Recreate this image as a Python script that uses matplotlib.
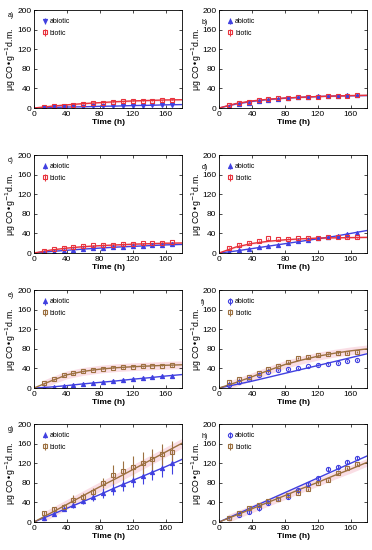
import matplotlib
matplotlib.use('Agg')
import matplotlib.pyplot as plt
import numpy as np

plt.rcParams['font.family'] = ['Liberation Sans', 'DejaVu Sans']

hours = [12, 24, 36, 48, 60, 72, 84, 96, 108, 120, 132, 144, 156, 168]
fit_x = [0, 20, 40, 60, 80, 100, 120, 140, 160, 180]

# a)
a_abiotic = [1, 2, 2, 3, 3, 4, 4, 5, 5, 5, 5, 6, 6, 7]
a_biotic = [2, 4, 5, 7, 9, 10, 11, 13, 14, 15, 15, 15, 16, 17]
a_fit_abiotic = [0, 1, 2, 2.5, 3.5, 4, 5, 5.5, 6.5, 7]
a_fit_biotic = [0, 3.5, 6.5, 9, 11, 13, 14.5, 15.5, 16.5, 17]

# b)
b_abiotic = [3, 9, 11, 15, 17, 19, 21, 22, 23, 24, 24, 25, 27, 27]
b_biotic = [6, 10, 13, 16, 19, 20, 21, 22, 23, 23, 24, 25, 25, 26]
b_fit_abiotic = [0, 8, 13.5, 17.5, 20, 22, 23.5, 24.5, 25, 25.5]
b_fit_biotic = [0, 9, 14.5, 18, 20.5, 22, 23.5, 24.5, 25.5, 26]

# c)
c_abiotic = [1, 3, 5, 7, 8, 10, 11, 12, 13, 14, 15, 16, 17, 18]
c_biotic = [5, 8, 11, 13, 15, 16, 17, 17, 19, 19, 20, 20, 21, 22]
c_fit_abiotic = [0, 3, 5.5, 8, 10, 12, 13.5, 15, 16.5, 17.5]
c_fit_biotic = [0, 6, 10, 13, 15, 16.5, 18, 19, 20, 20.5]

# d)
d_abiotic = [2, 6, 9, 12, 14, 17, 21, 24, 27, 30, 33, 35, 38, 41]
d_biotic = [11, 17, 21, 25, 30, 28, 29, 30, 31, 31, 32, 32, 32, 32]
d_fit_abiotic = [0, 4, 9, 14, 19, 24, 29, 34, 40, 46]
d_fit_biotic = [0, 12, 19.5, 24, 27, 29, 30.5, 31, 31.5, 32]

# e)
e_abiotic = [1, 2, 4, 6, 8, 10, 12, 14, 16, 18, 20, 22, 24, 25]
e_biotic = [10, 18, 27, 30, 34, 37, 39, 41, 42, 43, 44, 45, 46, 47]
e_fit_abiotic = [0, 2, 5, 8.5, 11.5, 14.5, 18, 21, 24.5, 27.5]
e_fit_biotic = [0, 14, 27, 34, 38.5, 41.5, 43.5, 45, 46.5, 47.5]

# f)
f_abiotic = [6, 12, 18, 26, 32, 37, 38, 40, 44, 47, 50, 52, 55, 58]
f_biotic = [13, 18, 22, 30, 38, 46, 54, 62, 64, 67, 70, 71, 72, 73]
f_fit_abiotic = [0, 7, 14, 22, 30, 38, 46, 54, 62, 70]
f_fit_biotic = [0, 11, 23, 36, 48, 57, 65, 71, 76, 80]

# g)
g_abiotic = [8, 17, 27, 35, 43, 51, 60, 68, 77, 86, 94, 103, 111, 120]
g_biotic = [19, 26, 31, 45, 52, 62, 80, 97, 105, 113, 120, 128, 138, 142]
g_err_abiotic = [3, 4, 5, 6, 7, 8, 10, 12, 13, 15, 16, 18, 20, 22]
g_err_biotic = [4, 5, 6, 10, 8, 8, 10, 20, 20, 22, 22, 22, 22, 24]
g_fit_abiotic = [0, 14, 28, 42, 56, 71, 85, 99, 113, 128]
g_fit_biotic = [0, 18, 36, 54, 72, 89, 107, 125, 143, 161]

# h)
h_abiotic = [8, 15, 20, 28, 38, 47, 52, 65, 77, 90, 108, 112, 123, 130]
h_biotic = [8, 18, 28, 35, 42, 47, 55, 60, 67, 80, 85, 100, 110, 118]
h_err_abiotic = [2, 3, 4, 5, 4, 4, 5, 5, 5, 5, 5, 5, 4, 4]
h_err_biotic = [2, 3, 3, 3, 3, 3, 3, 3, 3, 3, 3, 3, 3, 3]
h_fit_abiotic = [0, 15, 30, 45, 60, 75, 90, 105, 120, 135]
h_fit_biotic = [0, 13.5, 27, 40.5, 54, 68, 81, 95, 108, 122]

BLUE = '#4040e0'
RED = '#e8323c'
BROWN = '#9c7040'
PINK = '#f7c8d4'

panels = [
    ('a)', a_abiotic, a_biotic, 0.8, 0.8, a_fit_abiotic, a_fit_biotic, RED, 'v', 2),
    ('b)', b_abiotic, b_biotic, 1.0, 1.0, b_fit_abiotic, b_fit_biotic, RED, '^', 2),
    ('c)', c_abiotic, c_biotic, 1.0, 1.0, c_fit_abiotic, c_fit_biotic, RED, '^', 2),
    ('d)', d_abiotic, d_biotic, 1.0, 1.0, d_fit_abiotic, d_fit_biotic, RED, '^', 2),
    ('e)', e_abiotic, e_biotic, 1.0, 1.0, e_fit_abiotic, e_fit_biotic, BROWN, '^', 8),
    ('f)', f_abiotic, f_biotic, 2.0, 2.0, f_fit_abiotic, f_fit_biotic, BROWN, 'o', 8),
    ('g)', g_abiotic, g_biotic, g_err_abiotic, g_err_biotic, g_fit_abiotic, g_fit_biotic, BROWN, '^', 10),
    ('h)', h_abiotic, h_biotic, h_err_abiotic, h_err_biotic, h_fit_abiotic, h_fit_biotic, BROWN, 'o', 8),
]

fig = plt.figure(figsize=(3.72, 5.50), dpi=100)
lefts = [0.0914, 0.589]
bottoms = [0.8036, 0.54, 0.2945, 0.0509]

xs = np.linspace(0, 180, 100)
for i, (lab, ab, bi, eab, ebi, fab, fbi, bcol, amark, band) in enumerate(panels):
    ax = fig.add_axes([lefts[i % 2], bottoms[i // 2], 0.398, 0.178])
    fa = np.interp(xs, fit_x, fab)
    fb = np.interp(xs, fit_x, fbi)
    ax.fill_between(xs[6:], fb[6:] - band, fb[6:] + band, color=PINK, alpha=0.6, lw=0)
    ax.plot(xs, fa, color=BLUE, lw=1.0)
    ax.plot(xs, fb, color=bcol, lw=1.0)
    ax.errorbar(hours, ab, yerr=eab, fmt=amark, ms=3, mfc='none' if amark == 'o' else BLUE,
                mec=BLUE, ecolor=BLUE, elinewidth=0.8, capsize=0, mew=0.8,
                label='abiotic', ls='none')
    ax.errorbar(hours, bi, yerr=ebi, fmt='s', ms=3.5, mfc='none', mec=bcol, ecolor=bcol,
                elinewidth=0.8, capsize=0, mew=0.8, label='biotic', ls='none')
    ax.set_xlim(0, 180)
    ax.set_ylim(0, 200)
    ax.set_xticks([0, 40, 80, 120, 160])
    ax.set_yticks([0, 40, 80, 120, 160, 200])
    ax.tick_params(direction='in', top=True, right=True, labelsize=6, length=2, width=0.5, pad=2)
    for s in ax.spines.values():
        s.set_linewidth(0.6)
    ax.set_xlabel('Time (h)', fontsize=6, fontweight='bold', labelpad=1)
    ax.set_ylabel('μg CO\u2022g$^{-1}$d.m.', fontsize=6.3)
    ax.yaxis.set_label_coords(-0.105, 0.5)
    ax.legend(loc='upper left', fontsize=5, frameon=False, handlelength=0.8,
              handletextpad=0.3, borderaxespad=0.8, labelspacing=0.6)
    if i % 2 == 0:
        ax.text(-0.18, 0.93, lab, transform=ax.transAxes, fontsize=5)
    else:
        ax.text(-0.12, 0.86, lab, transform=ax.transAxes, fontsize=5)

fig.savefig('out.png', dpi=100)
